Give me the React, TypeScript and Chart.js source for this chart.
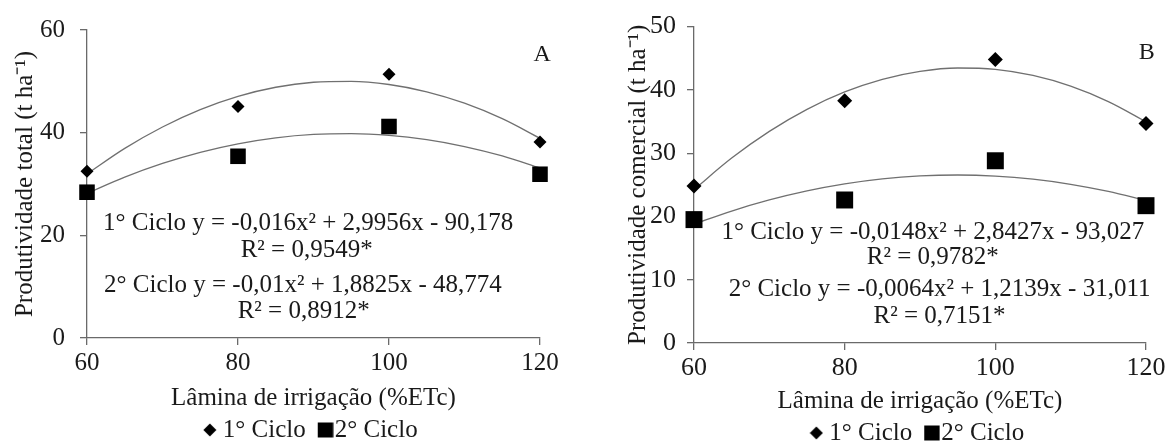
import React, { useEffect, useRef } from "react";
import { Chart, registerables } from "chart.js";

Chart.register(...registerables);

// ---------- data ----------
const irrigationLevels = [60, 80, 100, 120];
const totalCiclo1 = [32.5, 45.1, 51.4, 38.2];
const totalCiclo2 = [28.4, 35.4, 41.2, 31.9];
const comercialCiclo1 = [24.8, 38.3, 44.8, 34.7];
const comercialCiclo2 = [19.5, 22.6, 28.8, 21.7];

// fitted trend curves as drawn in the picture
const trendLevels = [60, 65, 70, 75, 80, 85, 90, 95, 100, 105, 110, 115, 120];
const totalTrend1 = [31.96, 36.94, 41.11, 44.49, 47.07, 48.85, 49.82, 50.0, 49.38, 47.96, 45.74, 42.72, 38.9];
const totalTrend2 = [28.18, 31.34, 34.0, 36.17, 37.83, 38.99, 39.65, 39.81, 39.48, 38.64, 37.3, 35.47, 33.11];
const comercialTrend1 = [24.25, 29.22, 33.44, 36.92, 39.67, 41.67, 42.93, 43.46, 43.24, 42.28, 40.59, 38.15, 34.97];
const comercialTrend2 = [18.78, 20.85, 22.6, 24.03, 25.14, 25.93, 26.4, 26.55, 26.38, 25.89, 25.08, 23.95, 22.5];

const seriesLabels = ["1° Ciclo", "2° Ciclo"];
const xTickValues = [60, 80, 100, 120];
const totalYTicks = [0, 20, 40, 60];
const comercialYTicks = [0, 10, 20, 30, 40, 50];
const xTitle = "Lâmina de irrigação (%ETc)";
const totalYTitle = "Produtividade total (t ha⁻¹)";
const comercialYTitle = "Produtividade comercial (t ha⁻¹)";
const totalEquations = [
  "1° Ciclo y = -0,016x² + 2,9956x - 90,178",
  "R² = 0,9549*",
  "2° Ciclo y = -0,01x² + 1,8825x - 48,774",
  "R² = 0,8912*",
];
const comercialEquations = [
  "1° Ciclo y = -0,0148x² + 2,8427x - 93,027",
  "R² = 0,9782*",
  "2° Ciclo y = -0,0064x² + 1,2139x - 31,011",
  "R² = 0,7151*",
];
const panelLetters = ["A", "B"];

// ---------- styles ----------
const FAMILY = "'Liberation Serif', 'Times New Roman', serif";
const TEXT = "#1a1a1a";
const AXIS = "#6a6a6a";
const TREND = "#707070";

// legend marker glyphs (diamond centred; square sits right of the anchor so it hugs its text)
function markerImage(kind: "diamond" | "square") {
  const c = document.createElement("canvas");
  if (kind === "square") {
    c.width = 24;
    c.height = 16;
    const g = c.getContext("2d")!;
    g.fillStyle = "#000";
    g.fillRect(8, 0.5, 15.5, 15);
    return c;
  }
  c.width = 14;
  c.height = 14;
  const g = c.getContext("2d")!;
  g.fillStyle = "#000";
  g.beginPath();
  g.moveTo(7, 0.5);
  g.lineTo(13.5, 7);
  g.lineTo(7, 13.5);
  g.lineTo(0.5, 7);
  g.closePath();
  g.fill();
  return c;
}

const panelTextPlugin = {
  id: "panelText",
  afterDatasetsDraw(chart: any, _args: any, opts: any) {
    const { ctx } = chart;
    const xs = chart.scales.x;
    const ys = chart.scales.y;
    ctx.save();
    ctx.fillStyle = TEXT;
    ctx.textAlign = "center";
    ctx.textBaseline = "middle";
    (opts.items || []).forEach((it: any) => {
      ctx.font = `${it.size}px ${FAMILY}`;
      ctx.fillText(it.text, xs.getPixelForValue(it.x), ys.getPixelForValue(it.y));
    });
    ctx.restore();
  },
};

interface PanelSpec {
  s1: number[];
  s2: number[];
  t1: number[];
  t2: number[];
  yTicks: number[];
  yMax: number;
  yTitle: string;
  equations: string[];
  eqPos: { x: number; y: number }[];
  letter: string;
  letterPos: { x: number; y: number };
  yWidth: number;
  top: number;
  right: number;
  bottom: number;
  xHeight: number;
  xTitlePad: number;
  yTitlePad: number;
  yTickPad: number;
  tickSize: number;
  diamondR: number;
  squareR: number;
}

function buildConfig(p: PanelSpec): any {
  const images = [markerImage("diamond"), markerImage("square")];
  const pts = (ys: number[]) => irrigationLevels.map((x, i) => ({ x, y: ys[i] }));
  const curve = (ys: number[]) => trendLevels.map((x, i) => ({ x, y: ys[i] }));
  const trend = (label: string, ys: number[]) => ({
    type: "line",
    label,
    data: curve(ys),
    borderColor: TREND,
    borderWidth: 1.3,
    pointRadius: 0,
    fill: false,
    showLine: true,
    cubicInterpolationMode: "monotone",
    order: 2,
  });
  return {
    type: "scatter",
    data: {
      datasets: [
        {
          label: seriesLabels[0],
          data: pts(p.s1),
          pointStyle: "rectRot",
          pointRadius: p.diamondR,
          backgroundColor: "#000",
          borderColor: "#000",
          borderWidth: 0,
          clip: false,
          order: 0,
        },
        {
          label: seriesLabels[1],
          data: pts(p.s2),
          pointStyle: "rect",
          pointRadius: p.squareR,
          backgroundColor: "#000",
          borderColor: "#000",
          borderWidth: 0,
          clip: false,
          order: 0,
        },
        trend("trend1", p.t1),
        trend("trend2", p.t2),
      ],
    },
    options: {
      responsive: false,
      animation: false,
      devicePixelRatio: 1,
      events: [],
      layout: { padding: { left: 0, top: p.top, right: p.right, bottom: p.bottom } },
      scales: {
        x: {
          type: "linear",
          min: 60,
          max: 120,
          afterBuildTicks: (s: any) => {
            s.ticks = xTickValues.map((v) => ({ value: v }));
          },
          afterFit: (s: any) => {
            s.height = p.xHeight;
          },
          grid: { display: true, drawOnChartArea: false, drawTicks: true, tickLength: 7, color: AXIS, lineWidth: 1.3 },
          border: { display: true, color: AXIS, width: 1.3 },
          ticks: { color: TEXT, font: { family: FAMILY, size: p.tickSize }, padding: 3, maxRotation: 0, autoSkip: false },
          title: {
            display: true,
            text: xTitle,
            color: TEXT,
            font: { family: FAMILY, size: 25 },
            padding: { top: 0, bottom: p.xTitlePad },
          },
        },
        y: {
          type: "linear",
          min: 0,
          max: p.yMax,
          afterBuildTicks: (s: any) => {
            s.ticks = p.yTicks.map((v) => ({ value: v }));
          },
          afterFit: (s: any) => {
            s.width = p.yWidth;
          },
          grid: { display: true, drawOnChartArea: false, drawTicks: true, tickLength: 7, color: AXIS, lineWidth: 1.3 },
          border: { display: true, color: AXIS, width: 1.3 },
          ticks: { color: TEXT, font: { family: FAMILY, size: p.tickSize }, padding: p.yTickPad, autoSkip: false },
          title: {
            display: true,
            text: p.yTitle,
            color: TEXT,
            font: { family: FAMILY, size: 25 },
            padding: { top: p.yTitlePad, bottom: 0 },
          },
        },
      },
      plugins: {
        tooltip: { enabled: false },
        legend: {
          display: true,
          position: "bottom",
          fullSize: false,
          labels: {
            usePointStyle: true,
            boxWidth: 1,
            boxHeight: 13,
            padding: 15.5,
            color: TEXT,
            font: { family: FAMILY, size: 25 },
            generateLabels: (chart: any) => {
              const base = Chart.defaults.plugins.legend.labels.generateLabels(chart);
              return base
                .filter((it: any) => it.datasetIndex < 2)
                .map((it: any) => ({ ...it, pointStyle: images[it.datasetIndex], fontColor: TEXT }));
            },
          },
        },
        panelText: {
          items: [
            ...p.equations.map((t, i) => ({ text: t, x: p.eqPos[i].x, y: p.eqPos[i].y, size: 25 })),
            { text: p.letter, x: p.letterPos.x, y: p.letterPos.y, size: 24 },
          ],
        },
      },
    },
    plugins: [panelTextPlugin],
  };
}

const panelA: PanelSpec = {
  s1: totalCiclo1,
  s2: totalCiclo2,
  t1: totalTrend1,
  t2: totalTrend2,
  yTicks: totalYTicks,
  yMax: 60,
  yTitle: totalYTitle,
  equations: totalEquations,
  eqPos: [
    { x: 89.3, y: 22.4 },
    { x: 89.1, y: 17.0 },
    { x: 88.6, y: 10.2 },
    { x: 88.7, y: 5.1 },
  ],
  letter: panelLetters[0],
  letterPos: { x: 120.3, y: 55.2 },
  yWidth: 87,
  top: 27,
  right: 60,
  bottom: -11.5,
  xHeight: 64,
  xTitlePad: -11,
  yTitlePad: 10,
  yTickPad: 15,
  tickSize: 25,
  diamondR: 6.5,
  squareR: 11,
};

const panelB: PanelSpec = {
  s1: comercialCiclo1,
  s2: comercialCiclo2,
  t1: comercialTrend1,
  t2: comercialTrend2,
  yTicks: comercialYTicks,
  yMax: 50,
  yTitle: comercialYTitle,
  equations: comercialEquations,
  eqPos: [
    { x: 91.7, y: 17.5 },
    { x: 91.7, y: 13.6 },
    { x: 92.6, y: 8.5 },
    { x: 92.6, y: 4.2 },
  ],
  letter: panelLetters[1],
  letterPos: { x: 120.1, y: 45.8 },
  yWidth: 94,
  top: 25,
  right: 23,
  bottom: -14.5,
  xHeight: 62,
  xTitlePad: -11.7,
  yTitlePad: 23,
  yTickPad: 11,
  tickSize: 26,
  diamondR: 7.5,
  squareR: 12,
};

function Panel({ spec, left, width }: { spec: PanelSpec; left: number; width: number }) {
  const ref = useRef<HTMLCanvasElement>(null);
  useEffect(() => {
    const chart = new Chart(ref.current as HTMLCanvasElement, buildConfig(spec));
    return () => chart.destroy();
  }, [spec]);
  return (
    <canvas
      ref={ref}
      width={width}
      height={441}
      style={{ position: "absolute", left, top: 0, width, height: 441, display: "block" }}
    />
  );
}

export default function App() {
  return (
    <div
      style={{
        position: "fixed",
        left: 0,
        top: 0,
        width: 1169,
        height: 441,
        background: "#fff",
        overflow: "hidden",
      }}
    >
      <Panel spec={panelA} left={0} width={600} />
      <Panel spec={panelB} left={600} width={569} />
    </div>
  );
}
